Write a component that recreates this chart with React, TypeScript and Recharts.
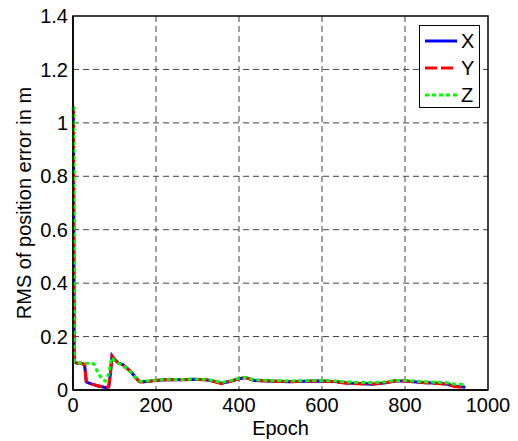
import { LineChart, Line, XAxis, YAxis, CartesianGrid, Legend, ReferenceArea } from "recharts";

const epochs = [1, 3, 10, 20, 28, 32, 40, 50, 60, 70, 78, 86, 90, 94, 100, 110, 120, 130, 140, 150, 160, 170, 185, 200, 230, 260, 290, 320, 340, 358, 380, 400, 415, 435, 470, 520, 560, 600, 630, 660, 690, 720, 750, 775, 800, 840, 880, 900, 920, 945];
const xErr = [1.06, 0.105, 0.1, 0.1, 0.095, 0.03, 0.025, 0.02, 0.015, 0.012, 0.009, 0.011, 0.06, 0.128, 0.115, 0.1, 0.095, 0.082, 0.068, 0.048, 0.032, 0.031, 0.033, 0.036, 0.039, 0.038, 0.04, 0.038, 0.033, 0.025, 0.033, 0.042, 0.047, 0.036, 0.034, 0.031, 0.033, 0.034, 0.032, 0.026, 0.024, 0.022, 0.026, 0.034, 0.034, 0.028, 0.025, 0.022, 0.015, 0.01];
const yErr = [1.06, 0.105, 0.1, 0.1, 0.095, 0.032, 0.026, 0.02, 0.016, 0.012, 0.009, 0.011, 0.06, 0.127, 0.114, 0.1, 0.094, 0.081, 0.067, 0.047, 0.031, 0.03, 0.033, 0.036, 0.039, 0.038, 0.04, 0.038, 0.032, 0.024, 0.033, 0.042, 0.047, 0.036, 0.034, 0.031, 0.033, 0.034, 0.031, 0.025, 0.023, 0.022, 0.026, 0.034, 0.034, 0.028, 0.024, 0.021, 0.013, 0.009];
const zErr = [1.06, 0.105, 0.1, 0.1, 0.1, 0.1, 0.1, 0.098, 0.065, 0.04, 0.033, 0.06, 0.1, 0.122, 0.11, 0.1, 0.092, 0.08, 0.066, 0.048, 0.034, 0.033, 0.035, 0.037, 0.04, 0.039, 0.041, 0.04, 0.035, 0.028, 0.035, 0.044, 0.048, 0.038, 0.036, 0.034, 0.035, 0.036, 0.034, 0.03, 0.029, 0.028, 0.03, 0.036, 0.036, 0.031, 0.029, 0.027, 0.022, 0.02];

const xTicks = [0, 200, 400, 600, 800, 1000];
const yTicks = [0, 0.2, 0.4, 0.6, 0.8, 1, 1.2, 1.4];
// inner grid lines only, the frame is drawn separately
const xGrid = [200, 400, 600, 800];
const yGrid = [0.2, 0.4, 0.6, 0.8, 1, 1.2];

const series = [
  { key: "X", color: "#0000ff", dash: undefined },
  { key: "Y", color: "#ff0000", dash: "12 4" },
  { key: "Z", color: "#00ff00", dash: "4 3" },
];

const data = epochs.map((epoch, i) => ({ epoch, X: xErr[i], Y: yErr[i], Z: zErr[i] }));

const font = "'Liberation Sans', Arial, sans-serif";
const tickStyle = { fill: "#000", fontSize: 20, fontFamily: font };

function LegendBox() {
  return (
    <div
      style={{
        boxSizing: "border-box",
        width: 61,
        height: 83,
        border: "1px solid #000",
        background: "#fff",
        paddingTop: 1,
        fontFamily: font,
        fontSize: 20,
      }}
    >
      {series.map((s) => (
        <div key={s.key} style={{ display: "flex", alignItems: "center", height: 27, paddingLeft: 5 }}>
          <svg width={32} height={6}>
            <line x1={0} y1={3} x2={32} y2={3} stroke={s.color} strokeWidth={3} strokeDasharray={s.dash} />
          </svg>
          <span style={{ marginLeft: 4, lineHeight: "20px" }}>{s.key}</span>
        </div>
      ))}
    </div>
  );
}

export default function App() {
  return (
    <div style={{ position: "absolute", left: 0, top: 0, width: 518, height: 441, background: "#fff" }}>
      <LineChart width={518} height={441} data={data} margin={{ top: 16, right: 30, bottom: 1, left: 0 }}>
        <CartesianGrid stroke="#444" strokeDasharray="6 4" horizontalValues={yGrid} verticalValues={xGrid} />
        <ReferenceArea x1={0} x2={1000} y1={0} y2={1.4} fill="none" fillOpacity={0} stroke="#000" strokeWidth={1.5} />
        <XAxis
          dataKey="epoch"
          type="number"
          domain={[0, 1000]}
          ticks={xTicks}
          tickLine={false}
          tickSize={0}
          tickMargin={8}
          height={50}
          axisLine={{ stroke: "#000", strokeWidth: 1.5 }}
          tick={tickStyle}
          label={{ value: "Epoch", position: "insideBottom", offset: 5, style: { fill: "#000", fontSize: 20, fontFamily: font } }}
        />
        <XAxis xAxisId="bm" type="number" domain={[0, 1000]} ticks={xTicks} mirror height={0} tick={false} tickSize={5} tickLine={{ stroke: "#000" }} axisLine={false} />
        <XAxis xAxisId="top" orientation="top" type="number" domain={[0, 1000]} ticks={xTicks} mirror height={0} tick={false} tickSize={5} tickLine={{ stroke: "#000" }} axisLine={{ stroke: "#000" }} />
        <YAxis
          type="number"
          domain={[0, 1.4]}
          ticks={yTicks}
          width={73}
          tickLine={false}
          tickSize={0}
          tickMargin={5}
          axisLine={{ stroke: "#000", strokeWidth: 1.5 }}
          tick={tickStyle}
          label={{ value: "RMS of position error in m", angle: -90, position: "insideLeft", offset: 24, style: { textAnchor: "middle", fill: "#000", fontSize: 20, fontFamily: font } }}
        />
        <YAxis yAxisId="lm" type="number" domain={[0, 1.4]} ticks={yTicks} mirror width={0} tick={false} tickSize={5} tickLine={{ stroke: "#000" }} axisLine={false} />
        <YAxis yAxisId="right" orientation="right" type="number" domain={[0, 1.4]} ticks={yTicks} mirror width={0} tick={false} tickSize={5} tickLine={{ stroke: "#000" }} axisLine={{ stroke: "#000" }} />
        {series.map((s) => (
          <Line
            key={s.key}
            type="linear"
            dataKey={s.key}
            stroke={s.color}
            strokeWidth={3}
            strokeDasharray={s.dash}
            dot={false}
            isAnimationActive={false}
          />
        ))}
        <Legend
          layout="vertical"
          align="center"
          verticalAlign="middle"
          content={() => <LegendBox />}
          wrapperStyle={{ left: 419, top: 25, width: 61, height: 83 }}
        />
      </LineChart>
    </div>
  );
}
